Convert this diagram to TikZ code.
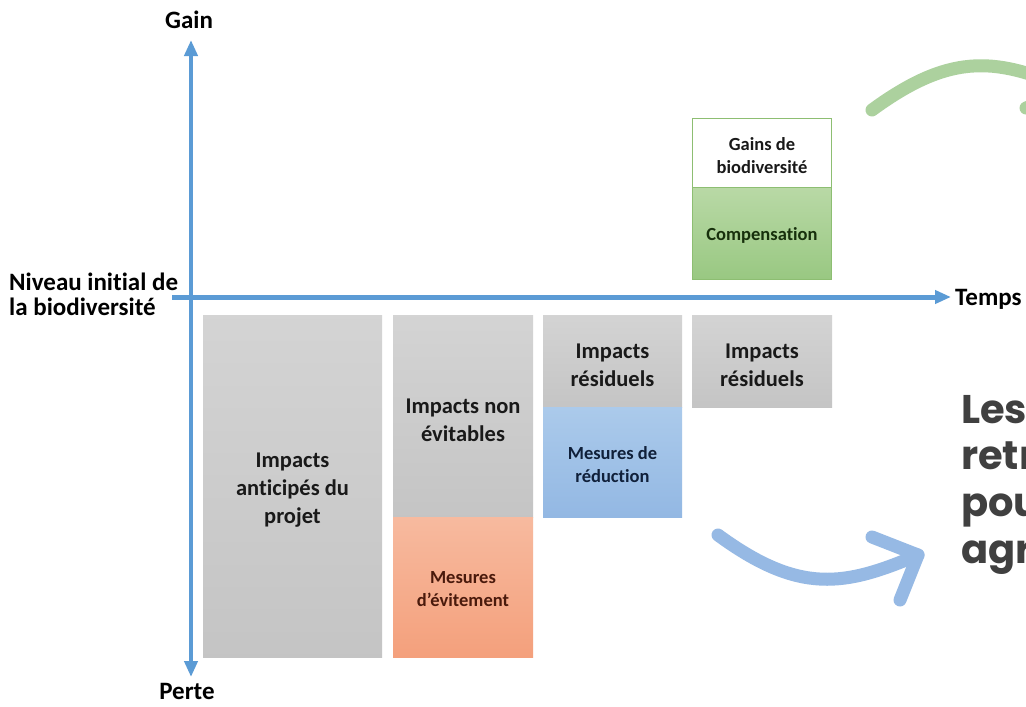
\documentclass[tikz,border=0pt]{standalone}
\usepackage{fontspec}
\setmainfont{Carlito}[Ligatures=NoCommon]
\newfontfamily\gothic{Poppins}
\usetikzlibrary{arrows.meta}

\definecolor{axisblue}{HTML}{5B9BD5}
\definecolor{arcblue}{HTML}{96B9E4}
\definecolor{arcgreen}{HTML}{ACD19E}
\definecolor{greenedge}{HTML}{8DBE72}
\definecolor{headline}{HTML}{404040}
\definecolor{avoidtop}{HTML}{F7BA9F}
\definecolor{avoidbot}{HTML}{F4A07C}
\definecolor{avoidtxt}{HTML}{4A1A0C}
\definecolor{reducetop}{HTML}{ABCAEB}
\definecolor{reducebot}{HTML}{93B8E3}
\definecolor{reducetxt}{HTML}{10203A}
\definecolor{offsettop}{HTML}{B9D9A6}
\definecolor{offsetbot}{HTML}{99C882}
\definecolor{offsettxt}{HTML}{17300C}

\tikzset{
  x=1pt, y=-1pt,
  axis/.style={draw=axisblue, -{Triangle[length=16pt,width=13pt]}},
  axislabel/.style={font=\fontsize{25}{25}\selectfont\bfseries, inner sep=0pt},
  biglabel/.style={font=\fontsize{22.5}{28}\selectfont\bfseries, text=black!90, align=center, yshift=-4pt},
  smalllabel/.style={font=\fontsize{18.5}{23}\selectfont\bfseries, align=center, yshift=-2.5pt},
  blockbox/.style={anchor=north west, inner sep=0pt, outer sep=0pt},
  graybox/.style={blockbox, top color=black!17, bottom color=black!23, draw=none},
  avoidbox/.style={blockbox, top color=avoidtop, bottom color=avoidbot, draw=none},
  reducebox/.style={blockbox, top color=reducetop, bottom color=reducebot, draw=none},
  offsetbox/.style={blockbox, top color=offsettop, bottom color=offsetbot, draw=greenedge, line width=1pt},
  gainbox/.style={blockbox, fill=white, draw=greenedge, line width=1.6pt},
  bigarc/.style={line width=13pt, line cap=round, line join=round},
  headtext/.style={anchor=base west, font=\gothic\fontsize{40}{47}\selectfont\bfseries, text=headline, inner sep=0pt}
}

\begin{document}
\begin{tikzpicture}
\useasboundingbox (0,0) rectangle (1026,707);
\clip (0,0) rectangle (1026,707);
\fill[white] (0,0) rectangle (1026,707);

% axes
\coordinate (yTop) at (191,40);
\coordinate (yBot) at (191,677);
\coordinate (yMid) at (191,360);
\coordinate (xStart) at (172,297);
\coordinate (xEnd) at (951,297);
\draw[axis, line width=4pt] (yMid) -- (yTop);
\draw[axis, line width=4pt] (yMid) -- (yBot);
\draw[axis, line width=5pt] (xStart) -- (xEnd);

% axis labels
\node (gain) [axislabel] at (189,20) {Gain};
\node (perte) [axislabel] at (187,691) {Perte};
\node (temps) [axislabel, anchor=base west] at (955,305) {Temps};
\node (niveau) [axislabel, align=left, anchor=west] at (9,294) {Niveau initial de\\la biodiversité};

% column 1
\node (anticip) [graybox, minimum width=179pt, minimum height=342pt] at (203,315) {};
\node (anticipT) [biglabel] at (anticip.center) {Impacts\\anticipés du\\projet};

% column 2
\node (nonevit) [graybox, minimum width=140pt, minimum height=202pt] at (393,315) {};
\node (nonevitT) [biglabel] at (nonevit.center) {Impacts non\\évitables};
\node (evit) [avoidbox, minimum width=140pt, minimum height=140pt] at (393,517) {};
\node (evitT) [smalllabel, text=avoidtxt] at (evit.center) {Mesures\\d’évitement};

% column 3
\node (resid1) [graybox, minimum width=139pt, minimum height=92pt] at (543,315) {};
\node (resid1T) [biglabel] at (resid1.center) {Impacts\\résiduels};
\node (reduc) [reducebox, minimum width=139pt, minimum height=110pt] at (543,407) {};
\node (reducT) [smalllabel, text=reducetxt] at (reduc.center) {Mesures de\\réduction};

% column 4
\node (resid2) [graybox, minimum width=140pt, minimum height=92pt] at (692,315) {};
\node (resid2T) [biglabel] at (resid2.center) {Impacts\\résiduels};
\node (comp) [offsetbox, minimum width=139pt, minimum height=92pt] at (692.5,187) {};
\node (compT) [smalllabel, text=offsettxt] at (comp.center) {Compensation};
\node (gains) [gainbox, minimum width=139pt, minimum height=69pt] at (692.5,118.5) {};
\node (gainsT) [smalllabel, text=black!90] at (gains.center) {Gains de\\biodiversité};

% curved arrows
\coordinate (bStart) at (718,535);
\coordinate (bTip) at (918,555);
\coordinate (bWing1) at (872,537);
\coordinate (bWing2) at (900,600);
\draw[bigarc, draw=arcblue] (bStart) .. controls (800,595) and (845,586) .. (bTip);
\draw[bigarc, draw=arcblue] (bWing1) -- (bTip) -- (bWing2);

\coordinate (gStart) at (872,110);
\coordinate (gTip) at (1072,90);
\coordinate (gWing1) at (1026,108);
\coordinate (gWing2) at (1054,45);
\draw[bigarc, draw=arcgreen] (gStart) .. controls (954,50) and (999,59) .. (gTip);
\draw[bigarc, draw=arcgreen] (gWing1) -- (gTip) -- (gWing2);

% heading on the right
\node (l1) [headtext] at (961,423) {Les};
\node (l2) [headtext] at (961,469) {retr};
\node (l3) [headtext] at (961,516) {pou};
\node (l4) [headtext] at (961,563) {agr};
\end{tikzpicture}
\end{document}
